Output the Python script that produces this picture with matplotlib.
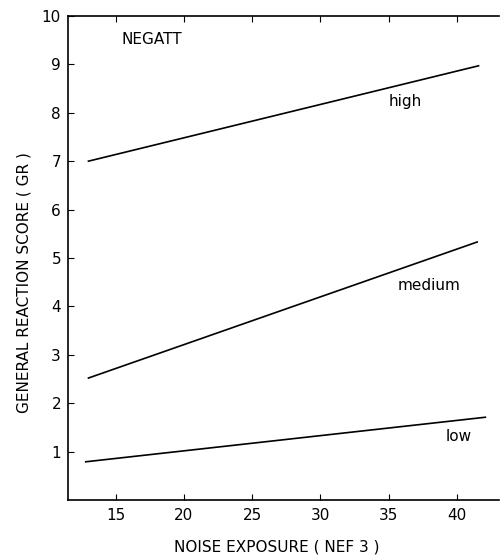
import matplotlib
matplotlib.use("Agg")
import matplotlib.pyplot as plt

# group lines: GR score vs noise exposure (NEF 3)
groups = ["high", "medium", "low"]
x_start = [13.0, 13.0, 12.8]
x_end = [41.6, 41.5, 42.1]
y_start = [7.0, 2.52, 0.79]
y_end = [8.97, 5.33, 1.71]

label_x = [35.0, 35.7, 39.2]
label_y = [8.24, 4.44, 1.32]

x_ticks = [15, 20, 25, 30, 35, 40]
y_ticks = [1, 2, 3, 4, 5, 6, 7, 8, 9, 10]

plt.rcParams["font.family"] = ["DejaVu Sans"]

fig = plt.figure(figsize=(5.0, 5.59), dpi=100)
ax = fig.add_axes([0.136, 0.1055, 0.862, 0.866])

for g, x0, x1, y0, y1, lx, ly in zip(groups, x_start, x_end, y_start, y_end, label_x, label_y):
    ax.plot([x0, x1], [y0, y1], color="black", linewidth=1.2)
    ax.text(lx, ly, g, fontsize=11, ha="left", va="center")

ax.text(15.45, 9.52, "NEGATT", fontsize=11, ha="left", va="center")

ax.set_xlim(11.5, 43.1)
ax.set_ylim(0, 10)
ax.set_xticks(x_ticks)
ax.set_yticks(y_ticks)
ax.tick_params(direction="in", top=True, right=False, length=4, labelsize=11)
ax.tick_params(axis="x", pad=6)
ax.tick_params(axis="y", pad=5)
ax.spines["right"].set_visible(False)
for s in ["left", "bottom", "top"]:
    ax.spines[s].set_linewidth(1.2)

fig.text(0.5 * (153 + 400) / 500, 1 - 547 / 559, "NOISE EXPOSURE ( NEF 3 )",
         fontsize=11, ha="center", va="center")
fig.text(24 / 500, 1 - 283 / 559, "GENERAL REACTION SCORE ( GR )",
         fontsize=11, ha="center", va="center", rotation=90)

fig.savefig("out.png", dpi=100)
